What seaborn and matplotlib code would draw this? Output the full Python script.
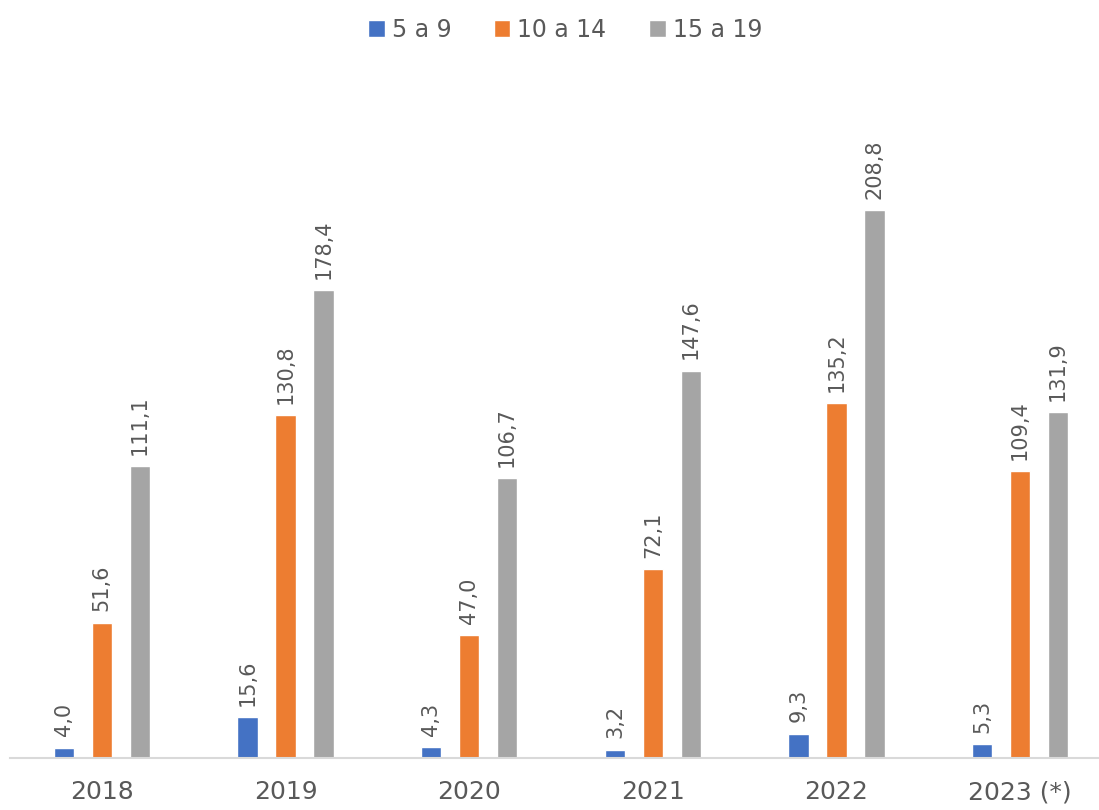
import pandas as pd
import seaborn as sns
import matplotlib.pyplot as plt

years = ['2018', '2019', '2020', '2021', '2022', '2023 (*)']
groups = ['5 a 9', '10 a 14', '15 a 19']
v_5_9 = [4.0, 15.6, 4.3, 3.2, 9.3, 5.3]
v_10_14 = [51.6, 130.8, 47.0, 72.1, 135.2, 109.4]
v_15_19 = [111.1, 178.4, 106.7, 147.6, 208.8, 131.9]
colors = ['#4472C4', '#ED7D31', '#A5A5A5']

rows = []
for g, vals in zip(groups, [v_5_9, v_10_14, v_15_19]):
    for y, v in zip(years, vals):
        rows.append({'ano': y, 'faixa': g, 'valor': v})
df = pd.DataFrame(rows)

sns.set_style('white')
plt.rcParams['font.family'] = ['DejaVu Sans']

fig = plt.figure(figsize=(10.99, 8.10), dpi=100)
ax = fig.add_axes([10 / 1099, 52 / 810, 1102 / 1099, 630 / 810])

sns.barplot(data=df, x='ano', y='valor', hue='faixa', palette=colors,
            saturation=1, width=0.62, gap=0.47, ax=ax, legend=True)

for cont in ax.containers:
    labels = [f'{b.get_height():.1f}'.replace('.', ',') for b in cont]
    ax.bar_label(cont, labels=labels, rotation=90, padding=8,
                 fontsize=15, color='#595959')

ax.set_ylim(0, 240)
ax.set_xlim(-0.5, 5.5)
ax.set_xlabel('')
ax.set_ylabel('')
ax.set_yticks([])
for s in ['top', 'right', 'left']:
    ax.spines[s].set_visible(False)
ax.spines['bottom'].set_color('#D9D9D9')
ax.spines['bottom'].set_linewidth(1.5)
ax.tick_params(axis='x', length=0, pad=16, labelsize=18, labelcolor='#595959')

ax.legend(loc='center', bbox_to_anchor=(565 / 1099, 1 - 30 / 810),
          bbox_transform=fig.transFigure, ncol=3, frameon=False,
          fontsize=17, labelcolor='#595959', handlelength=0.7,
          handleheight=0.7, handletextpad=0.3, columnspacing=1.8)

fig.savefig('out.png', dpi=100)
